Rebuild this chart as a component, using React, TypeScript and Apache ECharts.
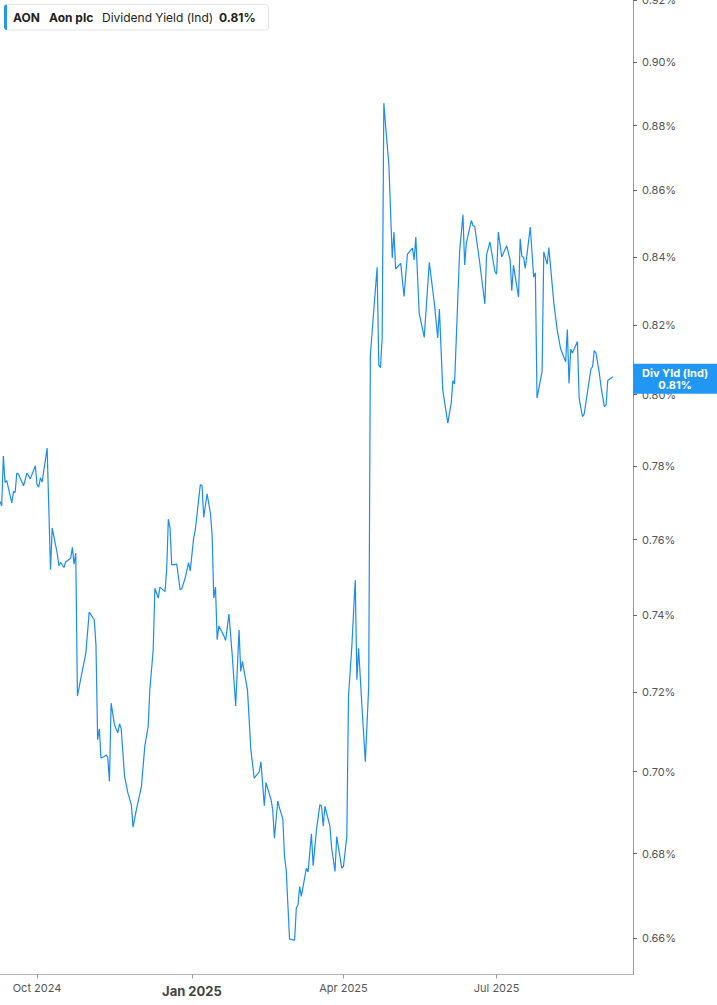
import { useEffect, useRef } from 'react';
import * as echarts from 'echarts';

// trading dates (approximate vertices of the line) and dividend yield in %
const dates = [
  '2024-09-09', '2024-09-10', '2024-09-11', '2024-09-12', '2024-09-13', '2024-09-16', '2024-09-17', '2024-09-18',
  '2024-09-19', '2024-09-20', '2024-09-23', '2024-09-25', '2024-09-27', '2024-09-30', '2024-10-01', '2024-10-02',
  '2024-10-03', '2024-10-04', '2024-10-07', '2024-10-09', '2024-10-10', '2024-10-13', '2024-10-14', '2024-10-15',
  '2024-10-17', '2024-10-18', '2024-10-21', '2024-10-22', '2024-10-23', '2024-10-24', '2024-10-25', '2024-10-28',
  '2024-10-30', '2024-11-01', '2024-11-04', '2024-11-05', '2024-11-06', '2024-11-07', '2024-11-08', '2024-11-10',
  '2024-11-11', '2024-11-12', '2024-11-13', '2024-11-14', '2024-11-16', '2024-11-18', '2024-11-19', '2024-11-20',
  '2024-11-22', '2024-11-24', '2024-11-26', '2024-11-27', '2024-11-29', '2024-12-02', '2024-12-04', '2024-12-06',
  '2024-12-07', '2024-12-09', '2024-12-10', '2024-12-12', '2024-12-13', '2024-12-16', '2024-12-17', '2024-12-18',
  '2024-12-19', '2024-12-20', '2024-12-23', '2024-12-25', '2024-12-26', '2024-12-28', '2024-12-30', '2024-12-31',
  '2025-01-02', '2025-01-03', '2025-01-05', '2025-01-06', '2025-01-07', '2025-01-08', '2025-01-10', '2025-01-12',
  '2025-01-13', '2025-01-14', '2025-01-15', '2025-01-16', '2025-01-17', '2025-01-20', '2025-01-21', '2025-01-23',
  '2025-01-25', '2025-01-27', '2025-01-29', '2025-01-30', '2025-01-31', '2025-02-03', '2025-02-05', '2025-02-07',
  '2025-02-10', '2025-02-11', '2025-02-13', '2025-02-14', '2025-02-17', '2025-02-18', '2025-02-19', '2025-02-21',
  '2025-02-22', '2025-02-24', '2025-02-25', '2025-02-26', '2025-02-28', '2025-03-03', '2025-03-04', '2025-03-05',
  '2025-03-06', '2025-03-07', '2025-03-10', '2025-03-11', '2025-03-13', '2025-03-14', '2025-03-16', '2025-03-18',
  '2025-03-19', '2025-03-20', '2025-03-21', '2025-03-24', '2025-03-25', '2025-03-27', '2025-03-28', '2025-03-31',
  '2025-04-01', '2025-04-03', '2025-04-04', '2025-04-06', '2025-04-08', '2025-04-09', '2025-04-10', '2025-04-12',
  '2025-04-14', '2025-04-16', '2025-04-17', '2025-04-21', '2025-04-22', '2025-04-23', '2025-04-24', '2025-04-25',
  '2025-04-26', '2025-04-28', '2025-04-30', '2025-05-01', '2025-05-02', '2025-05-05', '2025-05-07', '2025-05-09',
  '2025-05-12', '2025-05-13', '2025-05-14', '2025-05-16', '2025-05-19', '2025-05-22', '2025-05-25', '2025-05-27',
  '2025-05-28', '2025-05-30', '2025-06-02', '2025-06-04', '2025-06-05', '2025-06-06', '2025-06-09', '2025-06-11',
  '2025-06-12', '2025-06-13', '2025-06-16', '2025-06-17', '2025-06-18', '2025-06-21', '2025-06-24', '2025-06-25',
  '2025-06-27', '2025-06-30', '2025-07-01', '2025-07-02', '2025-07-04', '2025-07-07', '2025-07-09', '2025-07-10',
  '2025-07-11', '2025-07-14', '2025-07-15', '2025-07-16', '2025-07-17', '2025-07-18', '2025-07-21', '2025-07-23',
  '2025-07-24', '2025-07-25', '2025-07-28', '2025-07-29', '2025-07-31', '2025-08-01', '2025-08-04', '2025-08-06',
  '2025-08-08', '2025-08-11', '2025-08-12', '2025-08-13', '2025-08-14', '2025-08-15', '2025-08-18', '2025-08-19',
  '2025-08-21', '2025-08-22', '2025-08-26', '2025-08-27', '2025-08-28', '2025-08-29', '2025-08-31', '2025-09-01',
  '2025-09-03', '2025-09-04', '2025-09-05', '2025-09-08',
];

const yields = [
  0.7703, 0.7691, 0.7828, 0.7755, 0.776, 0.7699, 0.773, 0.7728,
  0.7781, 0.7778, 0.7746, 0.7781, 0.7765, 0.7801, 0.7749, 0.7742,
  0.7768, 0.7756, 0.785, 0.7519, 0.7631, 0.7563, 0.753, 0.7538,
  0.7525, 0.754, 0.755, 0.7579, 0.7534, 0.7563, 0.719, 0.7257,
  0.7301, 0.7407, 0.7387, 0.7322, 0.708, 0.7107, 0.7034, 0.7038,
  0.7042, 0.7036, 0.6976, 0.7172, 0.7117, 0.7097, 0.712, 0.7107,
  0.6988, 0.6947, 0.6919, 0.6864, 0.6906, 0.6963, 0.7063, 0.7113,
  0.7206, 0.7309, 0.747, 0.7444, 0.7473, 0.7461, 0.7519, 0.7655,
  0.7631, 0.7532, 0.7534, 0.7466, 0.7469, 0.7497, 0.7538, 0.7516,
  0.7603, 0.7626, 0.7708, 0.7749, 0.7747, 0.766, 0.7724, 0.7671,
  0.7612, 0.7444, 0.7473, 0.7335, 0.7371, 0.7345, 0.7333, 0.7402,
  0.7292, 0.7165, 0.7361, 0.7253, 0.7279, 0.7206, 0.7055, 0.6984,
  0.7, 0.7025, 0.6916, 0.6973, 0.6931, 0.6906, 0.6837, 0.6928,
  0.6911, 0.6884, 0.6793, 0.6761, 0.6597, 0.6595, 0.667, 0.6678,
  0.6721, 0.6698, 0.6765, 0.6756, 0.6848, 0.6771, 0.6858, 0.6919,
  0.6915, 0.6866, 0.6915, 0.6866, 0.6813, 0.6757, 0.6841, 0.6765,
  0.6769, 0.6841, 0.7189, 0.7318, 0.7492, 0.7232, 0.7313, 0.7164,
  0.7025, 0.7214, 0.8114, 0.8369, 0.8085, 0.8077, 0.8162, 0.887,
  0.8802, 0.8678, 0.8397, 0.8474, 0.8364, 0.8381, 0.8283, 0.8408,
  0.8426, 0.8391, 0.8459, 0.8234, 0.8164, 0.8384, 0.8263, 0.8162,
  0.8246, 0.8013, 0.792, 0.7976, 0.804, 0.803, 0.8415, 0.8526,
  0.8376, 0.8441, 0.8509, 0.8493, 0.8491, 0.8381, 0.8261, 0.8405,
  0.8445, 0.8356, 0.8349, 0.8474, 0.84, 0.8433, 0.8391, 0.83,
  0.8375, 0.8281, 0.8454, 0.8402, 0.8399, 0.8366, 0.8489, 0.834,
  0.8353, 0.799, 0.8066, 0.8415, 0.8378, 0.8428, 0.8263, 0.8185,
  0.8131, 0.8094, 0.8187, 0.8032, 0.813, 0.8119, 0.8152, 0.799,
  0.7938, 0.7945, 0.8073, 0.808, 0.8126, 0.8119, 0.8061, 0.8023,
  0.7966, 0.7971, 0.804, 0.8051,
];

const yTicks = [0.66, 0.68, 0.7, 0.72, 0.74, 0.76, 0.78, 0.8, 0.82, 0.84, 0.86, 0.88, 0.9, 0.92];
const xTicks = ['2024-10-01', '2025-01-01', '2025-04-01', '2025-07-01'];
const MONTHS = ['Jan', 'Feb', 'Mar', 'Apr', 'May', 'Jun', 'Jul', 'Aug', 'Sep', 'Oct', 'Nov', 'Dec'];

const LINE = '#1b8cf2';
const FONT = 'Inter, "Noto Sans", sans-serif';

const toTime = (s: string) => new Date(s + 'T00:00:00').getTime();

export default function App() {
  const ref = useRef<HTMLDivElement | null>(null);

  useEffect(() => {
    document.body.style.margin = '0';
    if (!ref.current) return;
    const chart = echarts.init(ref.current, undefined, { renderer: 'svg' });

    // log scale: plot ln(yield) on a value axis, label back with exp
    const logTicks = yTicks.map((v) => Math.log(v));
    const timeTicks = xTicks.map(toTime);
    const last = yields[yields.length - 1];

    chart.setOption({
      animation: false,
      textStyle: { fontFamily: FONT },
      grid: { left: 0, right: 84, top: 0, bottom: 30.5, outerBoundsMode: 'none' },
      xAxis: {
        type: 'value',
        min: toTime('2024-09-09'),
        max: toTime('2025-09-20'),
        axisLine: { lineStyle: { color: '#b4b4b4', width: 1 } },
        axisTick: { show: true, length: 4, customValues: timeTicks, lineStyle: { color: '#999' } },
        axisLabel: {
          customValues: timeTicks,
          color: '#555',
          fontSize: 11,
          margin: 8,
          formatter: (v: number) => {
            const d = new Date(v);
            const s = `${MONTHS[d.getMonth()]} ${d.getFullYear()}`;
            return d.getMonth() === 0 ? `{yr|${s}}` : s;
          },
          rich: { yr: { fontSize: 13, fontWeight: 'bold', color: '#444', padding: [2, 0, 0, 0] } },
        },
        splitLine: { show: false },
      },
      yAxis: {
        type: 'value',
        position: 'right',
        min: Math.log(0.6515),
        max: Math.log(0.92),
        axisLine: { show: true, lineStyle: { color: '#999' } },
        axisTick: { show: true, length: 4, customValues: logTicks, lineStyle: { color: '#666' } },
        axisLabel: {
          customValues: logTicks,
          color: '#555',
          fontSize: 11,
          margin: 9,
          formatter: (v: number) => Math.exp(v).toFixed(2) + '%',
        },
        splitLine: { show: false },
      },
      series: [
        {
          type: 'line',
          data: dates.map((d, i) => [toTime(d), Math.log(yields[i])]),
          showSymbol: false,
          lineStyle: { color: LINE, width: 1.2 },
          itemStyle: { color: LINE },
          markLine: {
            silent: true,
            symbol: 'none',
            lineStyle: { color: 'rgba(0,0,0,0)', width: 0 },
            label: {
              show: true,
              position: 'end',
              distance: 0,
              offset: [0, -7],
              backgroundColor: '#2196f3',
              padding: [3, 9, 3, 9],
              formatter: () => `{a|Div Yld (Ind)}\n{a|${last.toFixed(2)}%}`,
              rich: {
                a: { align: 'center', color: '#fff', fontWeight: 'bold', fontSize: 11, lineHeight: 12, fontFamily: FONT },
              },
            },
            data: [{ yAxis: Math.log(last) }],
          },
        },
      ],
      graphic: [
        {
          type: 'rect',
          shape: { x: 4.5, y: 4.5, width: 264, height: 25.5, r: 3 },
          style: { fill: '#fff', stroke: '#e4e4e4', lineWidth: 1 },
        },
        {
          type: 'rect',
          shape: { x: 4, y: 4.5, width: 3, height: 25.5, r: [3, 0, 0, 3] },
          style: { fill: '#2196f3' },
        },
        { type: 'text', x: 13, y: 17.5, style: { text: 'AON', font: `bold 12px ${FONT}`, fill: '#222', verticalAlign: 'middle' } },
        { type: 'text', x: 49, y: 17.5, style: { text: 'Aon plc', font: `bold 12px ${FONT}`, fill: '#222', verticalAlign: 'middle' } },
        { type: 'text', x: 102, y: 17.5, style: { text: 'Dividend Yield (Ind)', font: `12px ${FONT}`, fill: '#222', verticalAlign: 'middle' } },
        { type: 'text', x: 219, y: 17.5, style: { text: `${last.toFixed(2)}%`, font: `bold 12px ${FONT}`, fill: '#222', verticalAlign: 'middle' } },
      ],
    });

    return () => {
      chart.dispose();
    };
  }, []);

  return <div ref={ref} style={{ width: 717, height: 1005 }} />;
}
